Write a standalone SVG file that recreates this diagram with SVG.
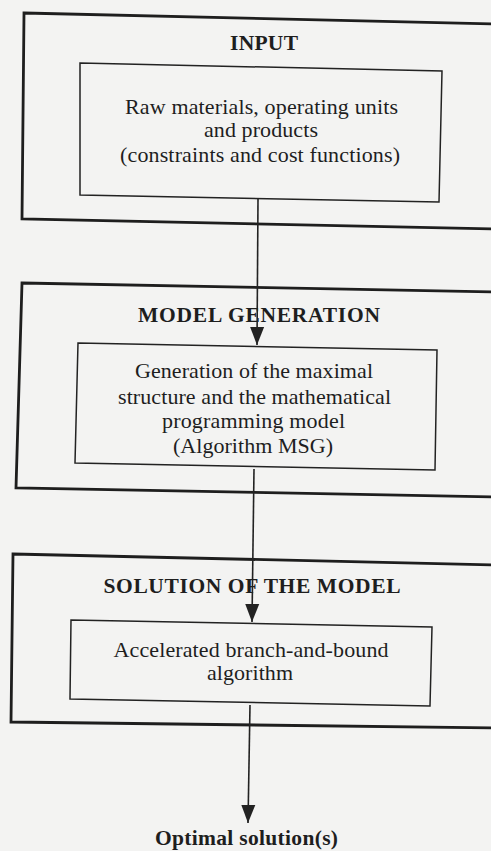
<svg xmlns="http://www.w3.org/2000/svg" width="491" height="851" viewBox="0 0 491 851">
  <style>
    .outer { fill: none; stroke: #1e1e1e; stroke-width: 2.8; stroke-linejoin: miter; }
    .inner { fill: none; stroke: #222; stroke-width: 1.5; }
    .title { font-family: "Liberation Serif", "Times New Roman", serif; font-weight: bold; font-size: 21.5px; fill: #1e1e1e; text-anchor: middle; }
    .body { font-family: "Liberation Serif", "Times New Roman", serif; font-size: 22px; fill: #1e1e1e; text-anchor: middle; }
    .conn { fill: none; stroke: #222; stroke-width: 1.6; }
  </style>
  <defs>
    <marker id="arrow" markerUnits="userSpaceOnUse" markerWidth="18" markerHeight="15" refX="18" refY="7.5" orient="auto">
      <path d="M0,0.5 L18,7.5 L0,14.5 z" fill="#222"/>
    </marker>
  </defs>
  <rect x="0" y="0" width="491" height="851" fill="#f3f3f2"/>

  <g id="stage-input">
    <polygon class="outer" points="24,13 500,24 500,229 22,219"/>
    <text class="title" x="264" y="50" textLength="68" lengthAdjust="spacing">INPUT</text>
    <g id="node-input">
      <polygon class="inner" points="80,63 442,71 439,202 80,195"/>
      <text class="body" x="261.5" y="114" textLength="273" lengthAdjust="spacing">Raw materials, operating units</text>
      <text class="body" x="261" y="137" textLength="114" lengthAdjust="spacing">and products</text>
      <text class="body" x="260" y="162" textLength="280" lengthAdjust="spacing">(constraints and cost functions)</text>
    </g>
  </g>

  <g id="stage-model-generation">
    <polygon class="outer" points="22,283 500,292 500,497 16,488"/>
    <text class="title" x="259" y="322" textLength="242" lengthAdjust="spacing">MODEL GENERATION</text>
    <g id="node-msg">
      <polygon class="inner" points="78,343 437,350 435,470 75,463"/>
      <text class="body" x="254" y="378" textLength="238" lengthAdjust="spacing">Generation of the maximal</text>
      <text class="body" x="254.5" y="404" textLength="273" lengthAdjust="spacing">structure and the mathematical</text>
      <text class="body" x="253.5" y="428" textLength="183" lengthAdjust="spacing">programming model</text>
      <text class="body" x="253" y="453" textLength="160" lengthAdjust="spacing">(Algorithm MSG)</text>
    </g>
  </g>

  <g id="stage-solution">
    <polygon class="outer" points="13,554 500,565 500,728 11,722"/>
    <text class="title" x="252" y="593" textLength="297" lengthAdjust="spacing">SOLUTION OF THE MODEL</text>
    <g id="node-bnb">
      <polygon class="inner" points="71,620 432,627 430,706 70,699"/>
      <text class="body" x="251" y="657" textLength="275" lengthAdjust="spacing">Accelerated branch-and-bound</text>
      <text class="body" x="250" y="680" textLength="86" lengthAdjust="spacing">algorithm</text>
    </g>
  </g>

  <g id="node-output">
    <text class="title" x="246.5" y="845" textLength="183" lengthAdjust="spacing">Optimal solution(s)</text>
  </g>

  <g id="connectors">
    <line class="conn" x1="258" y1="199" x2="257" y2="345" marker-end="url(#arrow)"/>
    <line class="conn" x1="254" y1="469" x2="252" y2="622" marker-end="url(#arrow)"/>
    <line class="conn" x1="250" y1="705" x2="248" y2="823" marker-end="url(#arrow)"/>
  </g>
</svg>
